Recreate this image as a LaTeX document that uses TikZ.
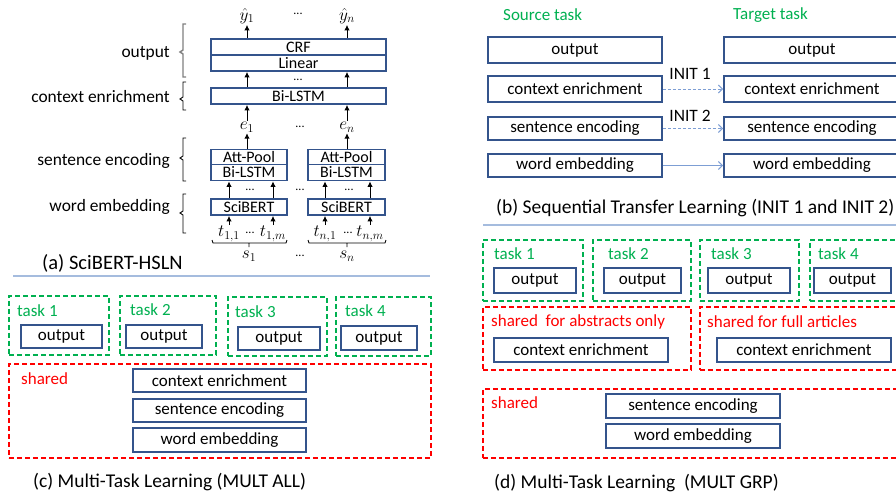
\documentclass[tikz,border=0pt]{standalone}
\usepackage{fontspec}
\setmainfont{Carlito}
\usetikzlibrary{arrows.meta}
\definecolor{boxblue}{RGB}{52,84,140}
\definecolor{tgreen}{RGB}{0,176,80}
\definecolor{tred}{RGB}{255,0,0}
\definecolor{sepblue}{RGB}{165,188,222}
\definecolor{arrblue}{RGB}{125,158,212}
\begin{document}
\begin{tikzpicture}[x=1pt,y=-1pt,
  lbl/.style={font=\fontsize{17.4}{18}\selectfont, inner sep=0pt},
  captxt/.style={font=\fontsize{19.5}{20}\selectfont, inner sep=0pt, anchor=west},
  abox/.style={draw=boxblue, line width=1.8pt, inner sep=0pt, font=\fontsize{16}{16}\selectfont},
  bbox/.style={draw=boxblue, line width=1.8pt, inner sep=0pt, font=\fontsize{17}{18}\selectfont},
  grp/.style={draw=tgreen, line width=1.6pt, dash pattern=on 5pt off 3pt, inner sep=0pt},
  rgrp/.style={draw=tred, line width=1.6pt, dash pattern=on 5pt off 3pt, inner sep=0pt},
  gtxt/.style={text=tgreen, font=\fontsize{17}{18}\selectfont, inner sep=0pt, anchor=west},
  rtxt/.style={text=tred, font=\fontsize{17}{18}\selectfont, inner sep=0pt, anchor=west},
  mth/.style={font=\fontsize{18}{19}\selectfont, inner sep=1pt},
  dts/.style={font=\fontsize{12}{12}\selectfont, inner sep=0pt},
  arr/.style={line width=1pt, -{Latex[length=5.5pt,width=5.5pt]}},
  tarr/.style={draw=arrblue, line width=1pt, -{Straight Barb[length=4pt,width=8pt]}},
  brk/.style={line width=0.9pt},
  sepline/.style={draw=sepblue, line width=1.4pt}
]
\useasboundingbox (0,0) rectangle (896,495);
\clip (0,0) rectangle (896,495);

% ================= (a) =================
\node[abox, minimum width=175, minimum height=16] (crf) at (298.5,47) {CRF};
\node[abox, minimum width=175, minimum height=16] (lin) at (298.5,63) {Linear};
\node[abox, minimum width=175, minimum height=16] (ctx) at (298.5,96) {Bi-LSTM};
\node[abox, minimum width=76, minimum height=15] (att1) at (249,157) {Att-Pool};
\node[abox, minimum width=76, minimum height=16] (bil1) at (249,172.5) {Bi-LSTM};
\node[abox, minimum width=76, minimum height=16] (sci1) at (249,207) {SciBERT};
\node[abox, minimum width=77, minimum height=15] (att2) at (346.5,157) {Att-Pool};
\node[abox, minimum width=77, minimum height=16] (bil2) at (346.5,172.5) {Bi-LSTM};
\node[abox, minimum width=77, minimum height=16] (sci2) at (346.5,207) {SciBERT};

\node[mth] (y1) at (247,16) {$\hat{y}_1$};
\node[dts] (dy) at (298,14) {...};
\node[mth] (yn) at (347,16) {$\hat{y}_n$};
\node[dts] (dl) at (298,80) {...};
\node[mth] (e1) at (247,127) {$e_1$};
\node[dts] (de) at (300,127) {...};
\node[mth] (en) at (347,127) {$e_n$};
\node[dts] (dsa) at (250,190) {...};
\node[dts] (dsm) at (300,190) {...};
\node[dts] (dsb) at (349,190) {...};
\node[mth] (t11) at (229,234) {$t_{1,1}$};
\node[dts] (dt1) at (250,233) {...};
\node[mth] (t1m) at (273,234) {$t_{1,m}$};
\node[mth] (tn1) at (325,234) {$t_{n,1}$};
\node[dts] (dt2) at (348,233) {...};
\node[mth] (tnm) at (370,234) {$t_{n,m}$};
\node[mth] (s1) at (249,256) {$s_1$};
\node[dts] (ds) at (300,256) {...};
\node[mth] (sn) at (347,256) {$s_n$};

\draw[arr] (crf.north -| y1) -- (y1.south);
\draw[arr] (crf.north -| yn) -- (yn.south);
\draw[arr] (ctx.north -| y1) -- (lin.south -| y1);
\draw[arr] (ctx.north -| yn) -- (lin.south -| yn);
\draw[arr] (e1.north) -- (ctx.south -| e1);
\draw[arr] (en.north) -- (ctx.south -| en);
\draw[arr] (att1.north -| e1) -- (e1.south);
\draw[arr] (att2.north -| en) -- (en.south);
\draw[arr] (sci1.north -| t11) -- (bil1.south -| t11);
\draw[arr] (sci1.north -| t1m) -- (bil1.south -| t1m);
\draw[arr] (sci2.north -| tn1) -- (bil2.south -| tn1);
\draw[arr] (sci2.north -| tnm) -- (bil2.south -| tnm);
\draw[arr] (t11.north) -- (sci1.south -| t11);
\draw[arr] (t1m.north) -- (sci1.south -| t1m);
\draw[arr] (tn1.north) -- (sci2.south -| tn1);
\draw[arr] (tnm.north) -- (sci2.south -| tnm);

% under-braces
\draw[brk] (212,240) -- (213,243) -- (249,243) -- (249,247) (249,243) -- (286,243) -- (287,240);
\draw[brk] (308,240) -- (309,243) -- (347,243) -- (347,247) (347,243) -- (385,243) -- (386,240);

% left labels and brackets
\node[lbl, anchor=east] (lo) at (170,53) {output};
\node[lbl, anchor=east] (lc) at (170,97) {context enrichment};
\node[lbl, anchor=east] (ls) at (170,161) {sentence encoding};
\node[lbl, anchor=east] (lw) at (170,207) {word embedding};
\draw[brk, draw=gray, line width=1.4pt] (186,24) -- (183,24) -- (183,50) -- (180,52) -- (183,54) -- (183,77) -- (186,77);
\draw[brk] (186,82) -- (183,82) -- (183,97) -- (180,99) -- (183,101) -- (183,110) -- (186,110);
\draw[brk] (186,138) -- (183,138) -- (183,156) -- (180,158) -- (183,160) -- (183,181) -- (186,181);
\draw[brk] (186,194) -- (183,194) -- (183,211) -- (180,213) -- (183,215) -- (183,233) -- (186,233);

\node[captxt, font=\fontsize{20.5}{21}\selectfont] (capa) at (42,263) {(a) SciBERT-HSLN};

\draw[sepline] (13,276) -- (430,276);

% ================= (b) =================
\node[gtxt] (src) at (503,15) {Source task};
\node[gtxt] (tgt) at (733,15) {Target task};
\node[bbox, minimum width=174, minimum height=26] (so) at (575,50) {output};
\node[bbox, minimum width=174, minimum height=26] (sc) at (575,89) {context enrichment};
\node[bbox, minimum width=174, minimum height=23] (ss) at (575,128.5) {sentence encoding};
\node[bbox, minimum width=174, minimum height=23] (sw) at (575,165.5) {word embedding};
\node[bbox, minimum width=176, minimum height=26] (to) at (812,50) {output};
\node[bbox, minimum width=176, minimum height=26] (tc) at (812,89) {context enrichment};
\node[bbox, minimum width=176, minimum height=23] (ts) at (812,128.5) {sentence encoding};
\node[bbox, minimum width=176, minimum height=23] (tw) at (812,165.5) {word embedding};
\draw[tarr, dash pattern=on 3pt off 2pt] (sc) -- (tc);
\draw[tarr, dash pattern=on 3pt off 2pt] (ss) -- (ts);
\draw[tarr] (sw) -- (tw);
\node[lbl] (i1) at (690,74) {INIT 1};
\node[lbl] (i2) at (690,116) {INIT 2};
\node[captxt] (capb) at (496,208) {(b) Sequential Transfer Learning (INIT 1 and INIT 2)};

\draw[sepline] (483,225) -- (896,225);

% ================= (c) =================
\node[grp, minimum width=100, minimum height=59, anchor=north west] (c1) at (8,295) {};
\node[grp, minimum width=96, minimum height=59, anchor=north west] (c2) at (119,295) {};
\node[grp, minimum width=99, minimum height=59, anchor=north west] (c3) at (227,296) {};
\node[grp, minimum width=95, minimum height=59, anchor=north west] (c4) at (335,296) {};
\node[gtxt] (ct1) at (17,311) {task 1};
\node[gtxt] (ct2) at (130,310) {task 2};
\node[gtxt] (ct3) at (235,312) {task 3};
\node[gtxt] (ct4) at (345,311) {task 4};
\node[bbox, minimum width=81, minimum height=23] (co1) at (61.5,336.5) {output};
\node[bbox, minimum width=76, minimum height=23] (co2) at (164,336.5) {output};
\node[bbox, minimum width=82, minimum height=23] (co3) at (279,338.5) {output};
\node[bbox, minimum width=76, minimum height=24] (co4) at (379,338) {output};
\node[rgrp, minimum width=422, minimum height=94, anchor=north west] (csh) at (8,363) {};
\node[rtxt] (cst) at (21,379) {shared};
\node[bbox, minimum width=173, minimum height=23] (cc) at (219.5,380.5) {context enrichment};
\node[bbox, minimum width=173, minimum height=23] (cs) at (219.5,410.5) {sentence encoding};
\node[bbox, minimum width=173, minimum height=24] (cw) at (219.5,440) {word embedding};
\node[captxt] (capc) at (33,482) {(c) Multi-Task Learning (MULT ALL)};

% ================= (d) =================
\node[grp, minimum width=100, minimum height=61, anchor=north west] (d1) at (482,239) {};
\node[grp, minimum width=98, minimum height=61, anchor=north west] (d2) at (592,239) {};
\node[grp, minimum width=99, minimum height=61, anchor=north west] (d3) at (699,239) {};
\node[grp, minimum width=100, minimum height=61, anchor=north west] (d4) at (809,239) {};
\node[gtxt] (dt1l) at (494,254) {task 1};
\node[gtxt] (dt2l) at (608,254) {task 2};
\node[gtxt] (dt3l) at (711,254) {task 3};
\node[gtxt] (dt4l) at (818,254) {task 4};
\node[bbox, minimum width=82, minimum height=25] (do1) at (535,280.5) {output};
\node[bbox, minimum width=77, minimum height=25] (do2) at (642.5,280.5) {output};
\node[bbox, minimum width=82, minimum height=25] (do3) at (749,280.5) {output};
\node[bbox, minimum width=77, minimum height=25] (do4) at (852.5,280.5) {output};
\node[rgrp, minimum width=208, minimum height=63, anchor=north west] (dab) at (482,306) {};
\node[rtxt] (dabt) at (491,322) {shared\ \ for abstracts only};
\node[bbox, minimum width=174, minimum height=24] (dc1) at (581,350) {context enrichment};
\node[rgrp, minimum width=210, minimum height=63, anchor=north west] (dfa) at (699,306) {};
\node[rtxt] (dfat) at (707,322) {shared for full articles};
\node[bbox, minimum width=174, minimum height=24] (dc2) at (804,350) {context enrichment};
\node[rgrp, minimum width=425, minimum height=69, anchor=north west] (dsh) at (482,388) {};
\node[rtxt] (dsht) at (491,403) {shared};
\node[bbox, minimum width=174, minimum height=24] (ds) at (693,406) {sentence encoding};
\node[bbox, minimum width=174, minimum height=24] (dw) at (693,436) {word embedding};
\node[captxt] (capd) at (494,483) {(d) Multi-Task Learning\ \ (MULT GRP)};
\end{tikzpicture}
\end{document}
